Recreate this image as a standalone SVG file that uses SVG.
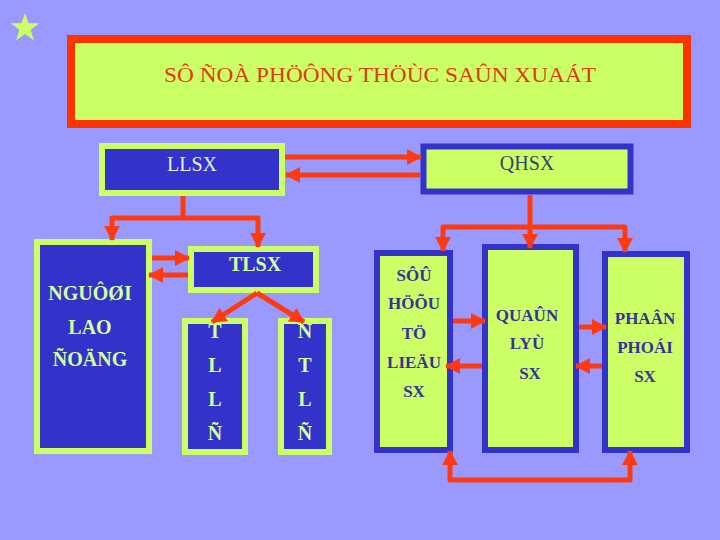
<svg xmlns="http://www.w3.org/2000/svg" width="720" height="540" viewBox="0 0 720 540">
<defs>
<marker id="ah" markerUnits="userSpaceOnUse" markerWidth="15" markerHeight="16" viewBox="0 0 15 16" refX="14" refY="8" orient="auto-start-reverse">
<path d="M0,0 L15,8 L0,16 z" fill="#FF3A10"/>
</marker>
<style>
.bg{fill:#9999FF}
.bbox{fill:#3333CC;stroke:#CCFF66;stroke-width:6}
.ybox{fill:#CCFF66;stroke:#3333CC;stroke-width:6}
.lt{font-family:"Liberation Serif","Times New Roman",serif;fill:#D4FF99;font-size:20px;font-weight:bold;text-anchor:middle}
.rt{font-family:"Liberation Serif","Times New Roman",serif;font-size:20px;text-anchor:middle}
.dt{font-family:"Liberation Serif","Times New Roman",serif;fill:#333399;font-size:17px;font-weight:bold;text-anchor:middle}
.cn{fill:none;stroke:#FF3A10;stroke-width:5;stroke-linejoin:round}
</style>
</defs>
<rect class="bg" x="0" y="0" width="720" height="540"/>
<polygon points="25,13 28.53,23.15 39.27,23.36 30.71,29.85 33.82,40.14 25,34 16.18,40.14 19.29,29.85 10.73,23.36 21.47,23.15" fill="#CCFF66"/>

<g id="title">
<rect x="71" y="39" width="616" height="85" fill="#CCFF66" stroke="#FF3300" stroke-width="8"/>
<text x="380" y="82" font-family="Liberation Serif, Times New Roman, serif" font-size="22" fill="#E03A10" text-anchor="middle" textLength="432" lengthAdjust="spacingAndGlyphs">SÔ ÑOÀ PHÖÔNG THÖÙC SAÛN XUAÁT</text>
</g>

<g id="llsx">
<rect class="bbox" x="102" y="146" width="180" height="47"/>
<text class="rt" x="192" y="171" fill="#E4EEF0">LLSX</text>
</g>
<g id="qhsx">
<rect class="ybox" x="423.5" y="146.5" width="207" height="45" stroke-width="7"/>
<text class="rt" x="527" y="170" fill="#334466">QHSX</text>
</g>
<g id="nguoi">
<rect class="bbox" x="37" y="242" width="112" height="209"/>
<text class="lt" x="90" y="300">NGUÔØI</text>
<text class="lt" x="90" y="334">LAO</text>
<text class="lt" x="90" y="366">ÑOÄNG</text>
</g>
<g id="tlsx">
<rect class="bbox" x="191" y="249" width="125" height="41"/>
<text class="lt" x="255" y="271">TLSX</text>
</g>
<g id="tlln">
<rect class="bbox" x="185" y="321" width="60" height="131"/>
<text class="lt" x="215" y="338">T</text>
<text class="lt" x="215" y="372">L</text>
<text class="lt" x="215" y="406">L</text>
<text class="lt" x="215" y="440">Ñ</text>
</g>
<g id="ntln">
<rect class="bbox" x="281" y="321" width="48" height="131"/>
<text class="lt" x="305" y="338">N</text>
<text class="lt" x="305" y="372">T</text>
<text class="lt" x="305" y="406">L</text>
<text class="lt" x="305" y="440">Ñ</text>
</g>
<g id="sohuu">
<rect class="ybox" x="377" y="253" width="73" height="197"/>
<text class="dt" x="414" y="281">SÔÛ</text>
<text class="dt" x="414" y="309">HÖÕU</text>
<text class="dt" x="414" y="339">TÖ</text>
<text class="dt" x="414" y="368">LIEÄU</text>
<text class="dt" x="414" y="397">SX</text>
</g>
<g id="quanly">
<rect class="ybox" x="485" y="247" width="91" height="203"/>
<text class="dt" x="527" y="321">QUAÛN</text>
<text class="dt" x="527" y="349">LYÙ</text>
<text class="dt" x="530" y="379">SX</text>
</g>
<g id="phanphoi">
<rect class="ybox" x="605" y="254" width="82" height="196"/>
<text class="dt" x="645" y="324">PHAÂN</text>
<text class="dt" x="645" y="353">PHOÁI</text>
<text class="dt" x="645" y="382">SX</text>
</g>

<g id="connectors">
<path class="cn" d="M285,157 H421" marker-end="url(#ah)"/>
<path class="cn" d="M420,175 H286" marker-end="url(#ah)"/>
<path class="cn" d="M183,196 V218"/>
<path class="cn" d="M183,218 H112 V240" marker-end="url(#ah)"/>
<path class="cn" d="M183,218 H258 V247" marker-end="url(#ah)"/>
<path class="cn" d="M152,258 H189" marker-end="url(#ah)"/>
<path class="cn" d="M188,275 H149" marker-end="url(#ah)"/>
<path class="cn" d="M257,293 L212,322" marker-end="url(#ah)"/>
<path class="cn" d="M257,293 L304,322" marker-end="url(#ah)"/>
<path class="cn" d="M530,195 V227"/>
<path class="cn" d="M530,227 H443 V251" marker-end="url(#ah)"/>
<path class="cn" d="M530,227 H625 V252" marker-end="url(#ah)"/>
<path class="cn" d="M530,227 V248" marker-end="url(#ah)"/>
<path class="cn" d="M453,321 H485" marker-end="url(#ah)"/>
<path class="cn" d="M482,366 H446" marker-end="url(#ah)"/>
<path class="cn" d="M579,327 H606" marker-end="url(#ah)"/>
<path class="cn" d="M602,366 H576" marker-end="url(#ah)"/>
<path class="cn" d="M450,451 V480 H630 V451" marker-start="url(#ah)" marker-end="url(#ah)"/>
</g>
</svg>
